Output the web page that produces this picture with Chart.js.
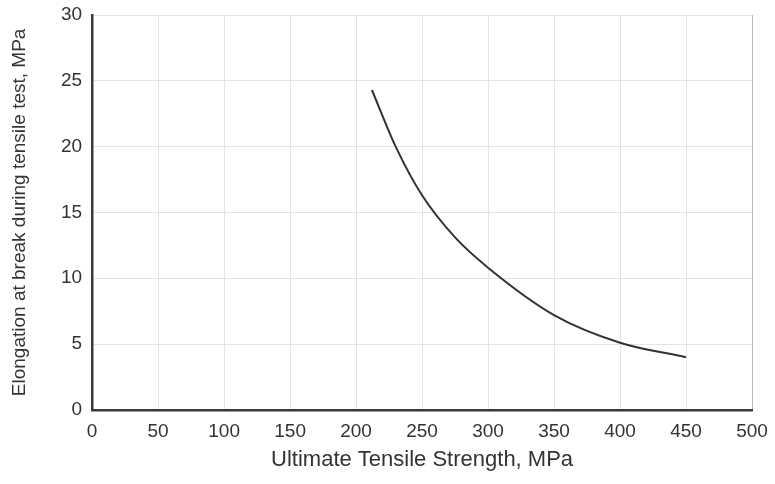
<!DOCTYPE html>
<html>
<head>
<meta charset="utf-8">
<script src="https://cdn.jsdelivr.net/npm/chart.js@4/dist/chart.umd.min.js"></script>
<style>
  body { margin: 0; background: #fff; }
  #wrap { width: 775px; height: 484px; }
</style>
</head>
<body>
<div id="wrap"><canvas id="myChart"></canvas></div>
<script>
// values
const strength = [212, 230, 250, 275, 300, 350, 400, 450];
const elongation = [24.3, 20.0, 16.3, 13.1, 10.8, 7.2, 5.1, 4.0];
const xTitle = 'Ultimate Tensile Strength, MPa';
const yTitle = 'Elongation at break during tensile test, MPa';

const ctx = document.getElementById('myChart').getContext('2d');
const points = strength.map((x, i) => ({ x: x, y: elongation[i] }));

const config = {
    type: 'line',
    data: {
        datasets: [
            {
                label: 'Elongation',
                data: points,
                borderColor: '#333',
                borderWidth: 2,
                pointRadius: 0,
                cubicInterpolationMode: 'monotone',
                fill: false,
            },
        ],
    },
    options: {
        responsive: true,
        maintainAspectRatio: false,
        animation: false,
        layout: { padding: { top: 15, right: 23, left: 4.6, bottom: 9.8 } },
        plugins: {
            legend: { display: false },
            tooltip: { enabled: false },
        },
        scales: {
            x: {
                type: 'linear',
                min: 0,
                max: 500,
                afterFit: s => { s.paddingRight = 0; s.paddingLeft = 0; },
                ticks: { stepSize: 50, color: '#333', font: { size: 19 }, padding: 11 },
                grid: {
                    color: c => (c.tick && c.tick.value === 500 ? '#bbb' : '#e4e4e4'),
                    drawTicks: false,
                },
                border: { color: '#3a3a3a', width: 2.5 },
                title: { display: true, text: xTitle, color: '#333', font: { size: 22 }, padding: { top: -7.8, bottom: 1 } },
            },
            y: {
                min: 0,
                max: 30,
                afterFit: s => { s.paddingTop = 0; s.paddingBottom = 0; },
                ticks: { stepSize: 5, color: '#333', font: { size: 19 }, padding: 10 },
                grid: { color: '#e4e4e4', drawTicks: false },
                border: { color: '#3a3a3a', width: 2.5 },
                title: { display: true, text: yTitle, color: '#333', font: { size: 19 }, padding: { top: 4, bottom: 19.6 } },
            },
        },
    },
};

Chart.defaults.font.family = 'Liberation Sans, Arial, sans-serif';
const chart = new Chart(ctx, config);
</script>
</body>
</html>
